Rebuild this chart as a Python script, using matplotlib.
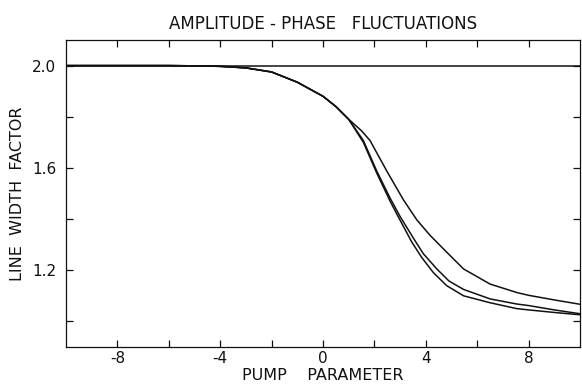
import numpy as np
import matplotlib
matplotlib.use("Agg")
import matplotlib.pyplot as plt

# part shared by the three curves
x_common = [-10, -8, -6, -5, -4, -3, -2, -1, 0, 0.5, 1.0]
y_common = [2.0, 2.0, 2.0, 1.999, 1.997, 1.991, 1.975, 1.935, 1.88, 1.84, 1.79]

# upper curve
x_upper = [1.5, 1.83, 2.48, 3.13, 3.65, 4.16, 4.81, 5.47, 6.5, 7.54, 8, 9, 10]
y_upper = [1.745, 1.707, 1.588, 1.475, 1.397, 1.337, 1.271, 1.205, 1.146, 1.113, 1.102, 1.084, 1.067]

# middle curve
x_middle = [1.57, 2.09, 2.61, 3.0, 3.52, 3.9, 4.43, 4.9, 5.47, 6.5, 7.54, 8, 9, 10]
y_middle = [1.707, 1.588, 1.482, 1.41, 1.325, 1.265, 1.205, 1.158, 1.125, 1.088, 1.068, 1.062, 1.045, 1.03]

# lower curve
x_lower = [1.57, 2.09, 2.61, 2.87, 3.45, 3.84, 4.3, 4.81, 5.47, 6.5, 7.54, 8, 9, 10]
y_lower = [1.70, 1.58, 1.47, 1.42, 1.311, 1.25, 1.19, 1.14, 1.10, 1.073, 1.050, 1.045, 1.035, 1.026]

flat_x = [-10, 10]
flat_y = [2.0, 2.0]

xticks_major = [-8, -4, 0, 4, 8]
xticks_minor = [-6, -2, 2, 6]
yticks_major = [1.2, 1.6, 2.0]
yticks_minor = [1.0, 1.4, 1.8]

plt.rcParams["font.family"] = "DejaVu Sans"
fig = plt.figure(figsize=(5.82, 3.85), dpi=100)
ax = fig.add_axes([0.1134, 0.0987, 0.8832, 0.7974])

ink = "#111111"
ax.plot(flat_x, flat_y, color=ink, lw=1.1)
for xt, yt in ((x_upper, y_upper), (x_middle, y_middle), (x_lower, y_lower)):
    xs = np.array(x_common + xt)
    ys = np.array(y_common + yt)
    ax.plot(xs, ys, color=ink, lw=1.1)

ax.set_xlim(-10, 10)
ax.set_ylim(0.9, 2.1)
ax.set_xticks(xticks_major)
ax.set_xticks(xticks_minor, minor=True)
ax.set_yticks(yticks_major)
ax.set_yticks(yticks_minor, minor=True)
ax.set_xticklabels(["-8", "-4", "0", "4", "8"])
ax.set_yticklabels(["1.2", "1.6", "2.0"])

ax.tick_params(which="both", direction="in", top=True, right=True,
               length=5, width=0.9, color=ink, labelsize=11, labelcolor=ink)
ax.tick_params(axis="x", which="both", pad=3)
ax.tick_params(axis="y", which="both", pad=7)
for s in ax.spines.values():
    s.set_linewidth(0.9)
    s.set_color(ink)

ax.set_xlabel("PUMP    PARAMETER", fontsize=11.5, color=ink, labelpad=1)
ax.set_ylabel("LINE  WIDTH  FACTOR", fontsize=11.5, color=ink, labelpad=5)
ax.set_title("AMPLITUDE - PHASE   FLUCTUATIONS", fontsize=12, color=ink, pad=8)

fig.savefig("out.png", dpi=100)
